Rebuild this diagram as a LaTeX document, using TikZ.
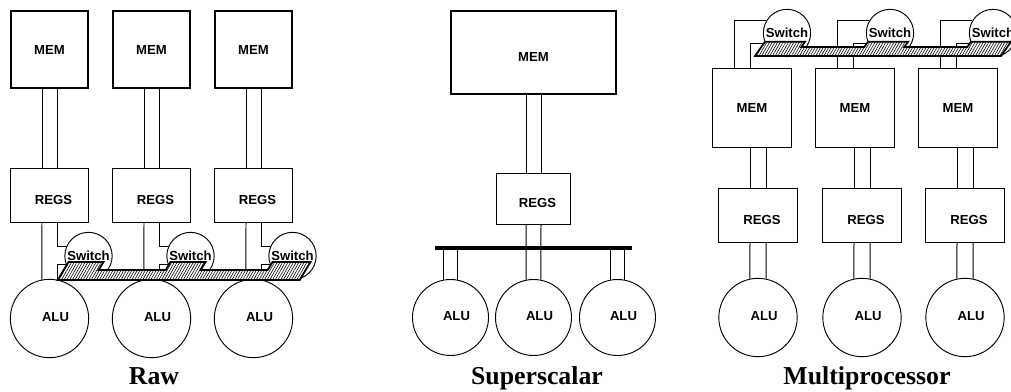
\documentclass[tikz,border=0pt]{standalone}
\usepackage{fontspec}
\setmainfont{Liberation Serif}
\setsansfont{Liberation Sans}
\usetikzlibrary{patterns.meta}

\begin{document}
\begin{tikzpicture}[x=0.03cm, y=-0.03cm, every node/.style={inner sep=0pt},
  txt/.style={font=\sffamily\bfseries\fontsize{11.2}{13}\selectfont},
  rlbl/.style={txt, shift={(4,4.5)}},
  albl/.style={txt, shift={(6,-1)}},
  mem/.style={draw, line width=1.6pt, minimum width=2.33cm, minimum height=2.33cm, txt},
  regs/.style={draw, line width=0.8pt, minimum width=2.35cm, minimum height=1.63cm},
  alu/.style={draw, circle, line width=0.8pt, minimum size=2.35cm},
  switch/.style={draw, circle, line width=0.8pt, minimum size=1.42cm, txt},
  wire/.style={line width=0.85pt},
  bus/.style={line width=2.6pt},
  xbar/.style={draw, line width=1.5pt, line join=miter, fill=white, postaction={pattern={Lines[angle=60, distance=2pt, line width=0.5pt]}}},
  title/.style={font=\bfseries\fontsize{22}{26}\selectfont, anchor=base}]
  \useasboundingbox (0,0) rectangle (1011,391);
  \clip (0,0) rectangle (1011,391);

  % Raw
  \node[mem] (m1) at (49.5,49.5) {MEM};
  \node[mem] (m2) at (151.5,49.5) {MEM};
  \node[mem] (m3) at (253.5,49.5) {MEM};
  \node[regs, label={[rlbl]center:REGS}] (r1) at (49.5,195.5) {};
  \node[regs, label={[rlbl]center:REGS}] (r2) at (151.5,195.5) {};
  \node[regs, label={[rlbl]center:REGS}] (r3) at (253.5,195.5) {};
  \node[alu, label={[albl]center:ALU}] (a1) at (49.5,318.5) {};
  \node[alu, label={[albl]center:ALU}] (a2) at (151.5,318.5) {};
  \node[alu, label={[albl]center:ALU}] (a3) at (253.5,318.5) {};
  \node[switch] (s1) at (88.5,256) {Switch};
  \node[switch] (s2) at (190.5,256) {Switch};
  \node[switch] (s3) at (292.5,256) {Switch};
  \draw[wire] ([shift={(-7.5,0)}]m1.south) -- ([shift={(-7.5,0)}]r1.north);
  \draw[wire] ([shift={(7.5,0)}]m1.south) -- ([shift={(7.5,0)}]r1.north);
  \draw[wire] ([shift={(-7.5,0)}]m2.south) -- ([shift={(-7.5,0)}]r2.north);
  \draw[wire] ([shift={(7.5,0)}]m2.south) -- ([shift={(7.5,0)}]r2.north);
  \draw[wire] ([shift={(-7.5,0)}]m3.south) -- ([shift={(-7.5,0)}]r3.north);
  \draw[wire] ([shift={(7.5,0)}]m3.south) -- ([shift={(7.5,0)}]r3.north);
  \draw[wire] ([shift={(-7.5,0)}]r1.south) -- (a1.101);
  \draw[wire] ([shift={(-7.5,0)}]r2.south) -- (a2.101);
  \draw[wire] ([shift={(-7.5,0)}]r3.south) -- (a3.101);
  \draw[wire] ([shift={(7.5,0)}]r1.south) |- (s1.158);
  \draw[wire] ([shift={(7.5,0)}]r2.south) |- (s2.158);
  \draw[wire] ([shift={(7.5,0)}]r3.south) |- (s3.158);
  \draw[wire] ([shift={(7.5,41)}]r1.south) -- +(0,16) ([shift={(7.5,41)}]r1.south) -- +(14,0);
  \draw[wire] ([shift={(7.5,41)}]r2.south) -- +(0,16) ([shift={(7.5,41)}]r2.south) -- +(14,0);
  \draw[wire] ([shift={(7.5,41)}]r3.south) -- +(0,16) ([shift={(7.5,41)}]r3.south) -- +(14,0);
  \draw[xbar] (57.7,280) -- (68.5,262) -- (103.5,262) -- (98.7,270) -- (165.7,270) -- (170.5,262)
    -- (205.5,262) -- (200.7,270) -- (267.7,270) -- (272.5,262) -- (310.5,262) -- (299.7,280) -- cycle;

  % Superscalar
  \node[mem, minimum width=4.95cm, minimum height=2.48cm, label={[txt, shift={(0,4)}]center:MEM}] (sm) at (533.5,52.5) {};
  \node[regs, minimum width=2.22cm, minimum height=1.53cm, label={[rlbl]center:REGS}] (sr) at (533.5,198.5) {};
  \node[alu, minimum size=2.28cm, label={[albl]center:ALU}] (sa1) at (450.5,317.5) {};
  \node[alu, minimum size=2.28cm, label={[albl]center:ALU}] (sa2) at (533.5,317.5) {};
  \node[alu, minimum size=2.28cm, label={[albl]center:ALU}] (sa3) at (617.5,317.5) {};
  \coordinate (busl) at (435,248);
  \coordinate (busr) at (632,248);
  \draw[bus] (busl) -- (busr);
  \draw[wire] ([shift={(-7.5,0)}]sm.south) -- ([shift={(-7.5,0)}]sr.north);
  \draw[wire] ([shift={(7.5,0)}]sm.south) -- ([shift={(7.5,0)}]sr.north);
  \draw[wire] ([shift={(-7.5,0)}]sr.south) -- (sa2.101);
  \draw[wire] ([shift={(7.5,0)}]sr.south) -- (sa2.79);
  \draw[wire] (sa1.101 |- busl) -- (sa1.101);
  \draw[wire] (sa1.79 |- busl) -- (sa1.79);
  \draw[wire] (sa3.101 |- busl) -- (sa3.101);
  \draw[wire] (sa3.79 |- busl) -- (sa3.79);

  % Multiprocessor
  \node[mem, minimum width=2.37cm, minimum height=2.37cm] (mm1) at (752,108) {MEM};
  \node[mem, minimum width=2.37cm, minimum height=2.37cm] (mm2) at (855,108) {MEM};
  \node[mem, minimum width=2.37cm, minimum height=2.37cm] (mm3) at (958,108) {MEM};
  \node[regs, label={[rlbl]center:REGS}] (mr1) at (758,215.5) {};
  \node[regs, label={[rlbl]center:REGS}] (mr2) at (862,215.5) {};
  \node[regs, label={[rlbl]center:REGS}] (mr3) at (965,215.5) {};
  \node[alu, label={[albl]center:ALU}] (ma1) at (758,317.5) {};
  \node[alu, label={[albl]center:ALU}] (ma2) at (862,317.5) {};
  \node[alu, label={[albl]center:ALU}] (ma3) at (965,317.5) {};
  \node[switch] (ms1) at (787,33) {Switch};
  \node[switch] (ms2) at (890,33) {Switch};
  \node[switch] (ms3) at (993,33) {Switch};
  \draw[wire] ([shift={(-8,0)}]mr1.north) -- ([shift={(-8,0)}]mr1.north |- mm1.south);
  \draw[wire] ([shift={(8,0)}]mr1.north) -- ([shift={(8,0)}]mr1.north |- mm1.south);
  \draw[wire] ([shift={(-8,0)}]mr2.north) -- ([shift={(-8,0)}]mr2.north |- mm2.south);
  \draw[wire] ([shift={(8,0)}]mr2.north) -- ([shift={(8,0)}]mr2.north |- mm2.south);
  \draw[wire] ([shift={(-8,0)}]mr3.north) -- ([shift={(-8,0)}]mr3.north |- mm3.south);
  \draw[wire] ([shift={(8,0)}]mr3.north) -- ([shift={(8,0)}]mr3.north |- mm3.south);
  \draw[wire] ([shift={(-8,0)}]mr1.south) -- (ma1.102);
  \draw[wire] ([shift={(8,0)}]mr1.south) -- (ma1.78);
  \draw[wire] ([shift={(-8,0)}]mr2.south) -- (ma2.102);
  \draw[wire] ([shift={(8,0)}]mr2.south) -- (ma2.78);
  \draw[wire] ([shift={(-8,0)}]mr3.south) -- (ma3.102);
  \draw[wire] ([shift={(8,0)}]mr3.south) -- (ma3.78);
  \draw[wire] ([shift={(-18,0)}]mm1.north) |- (ms1.149);
  \draw[wire] ([shift={(-18,0)}]mm2.north) |- (ms2.149);
  \draw[wire] ([shift={(-18,0)}]mm3.north) |- (ms3.149);
  \draw[wire] ([shift={(-2,0)}]mm1.north) -- ++(0,-24.3) -- ++(16,0);
  \draw[wire] ([shift={(-2,0)}]mm2.north) -- ++(0,-24.3) -- ++(16,0);
  \draw[wire] ([shift={(-2,0)}]mm3.north) -- ++(0,-24.3) -- ++(16,0);
  \draw[xbar] (755,56) -- (765,41.7) -- (805,41.7) -- (801.3,47) -- (864.3,47) -- (868,41.7)
    -- (908,41.7) -- (904.3,47) -- (967.3,47) -- (971,41.7) -- (1011,41.7) -- (1001,56) -- cycle;

  \node[title] (t1) at (154,384) {Raw};
  \node[title] (t2) at (537,384) {Superscalar};
  \node[title] (t3) at (867,384) {Multiprocessor};
\end{tikzpicture}
\end{document}
